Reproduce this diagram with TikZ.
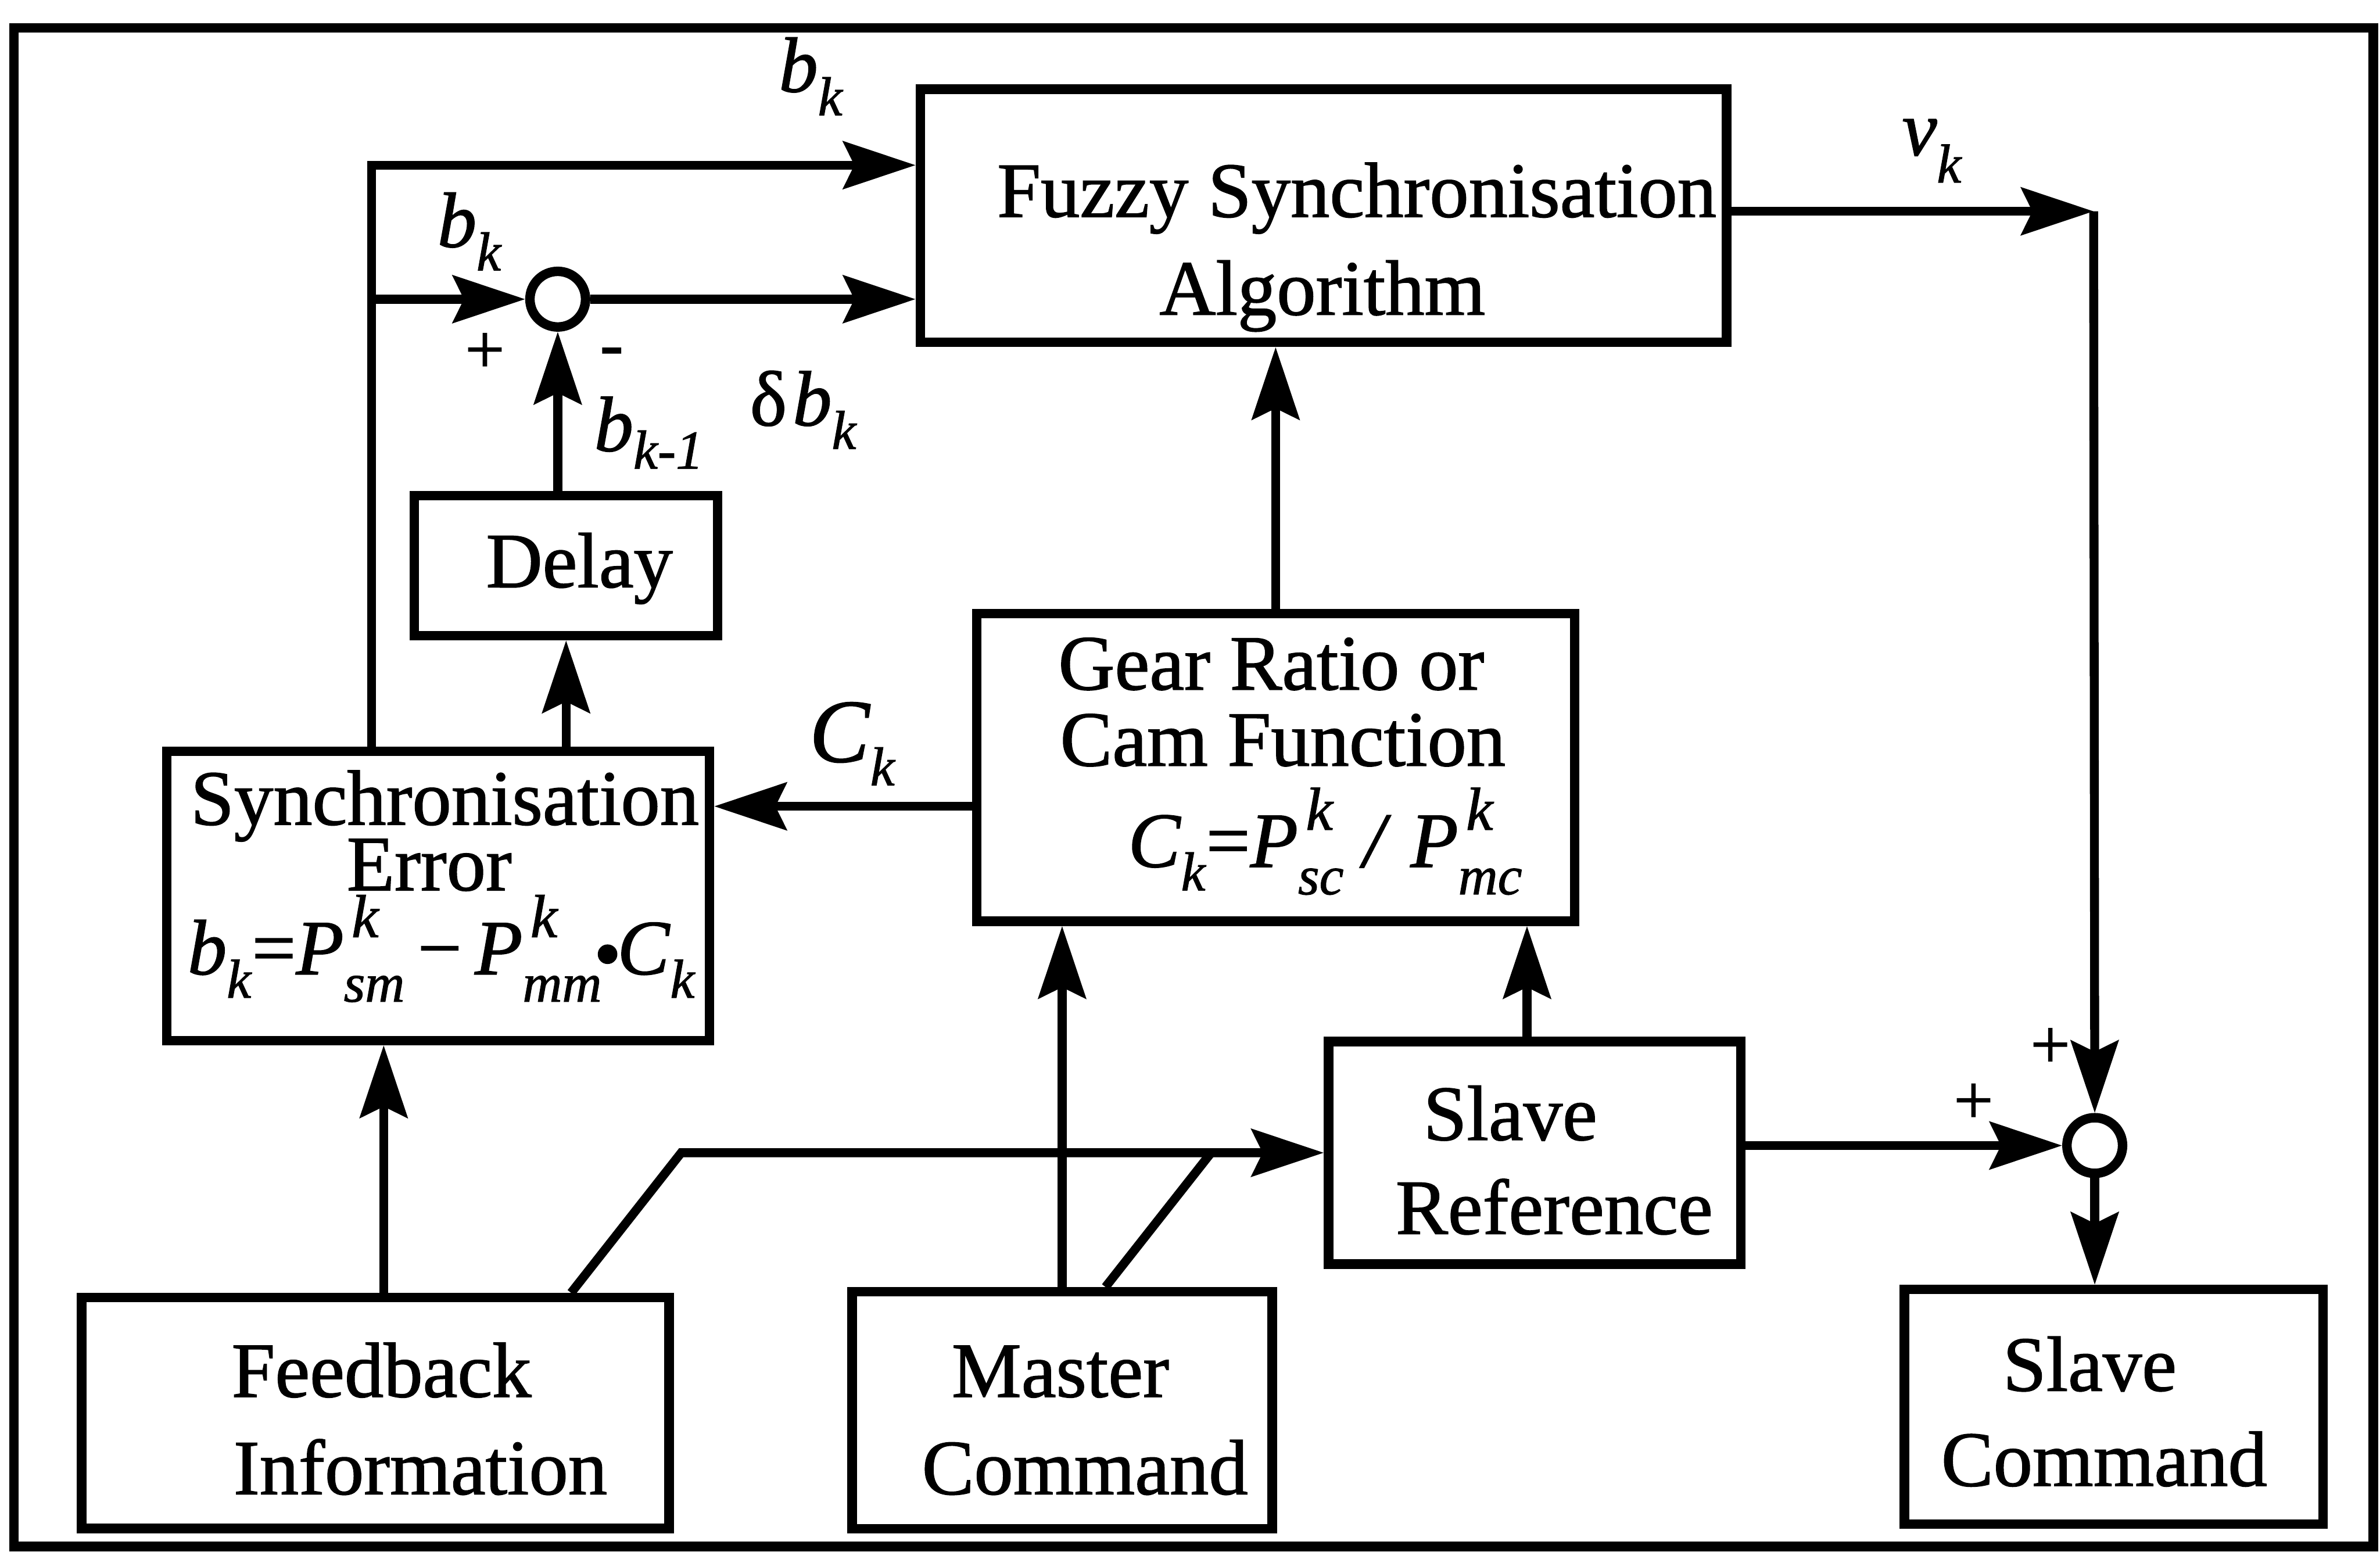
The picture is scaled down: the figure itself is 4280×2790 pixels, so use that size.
\documentclass[tikz,border=0pt]{standalone}
\usepackage{fontspec}
\setmainfont{Liberation Serif}[UprightFeatures={FakeBold=1.2},ItalicFeatures={FakeBold=1.2}]
\usetikzlibrary{arrows.meta}
\newcommand\txtsz{\fontsize{40}{48}\selectfont}
\newcommand\subsz{\fontsize{28}{28}\selectfont}
\newcommand\supsz{\fontsize{31}{31}\selectfont}
\newcommand\lsub[2]{\textit{#1}\raisebox{-12pt}{\subsz\textit{#2}}}
\newcommand\lsupsub[3]{\textit{#1}\rlap{\hspace{4pt}\raisebox{19pt}{\supsz\textit{#2}}}\raisebox{-14pt}{\subsz\textit{#3}}}
\tikzset{
  box/.style={draw, line width=0.17cm, inner sep=0pt},
  txt/.style={font=\txtsz, inner sep=0pt, anchor=base},
  lbl/.style={font=\txtsz, inner sep=0pt, anchor=base west},
  sgn/.style={font=\fontsize{36}{36}\selectfont, inner sep=0pt},
  sumnode/.style={draw, circle, line width=0.17cm, minimum size=1.0cm, inner sep=0pt, fill=white},
  conn/.style={line width=0.16cm, -{Stealth[length=1.3cm,width=0.85cm,inset=0.2cm]}},
  plain/.style={line width=0.16cm},
}
\begin{document}
\begin{tikzpicture}[x=0.01cm,y=-0.01cm]
\useasboundingbox (0,0) rectangle (4280,2790);
% outer frame
\draw[line width=0.17cm] (25,50) rectangle (4268,2781);

% boxes
\node[box, minimum width=14.49cm, minimum height=4.55cm] (fuzzy) at (2380,388) {};
\node[box, minimum width=5.45cm, minimum height=2.52cm] (delay) at (1018,1017) {};
\node[box, minimum width=9.75cm, minimum height=5.20cm] (syncE) at (788,1611) {};
\node[box, minimum width=10.75cm, minimum height=5.53cm] (gear) at (2294,1380) {};
\node[box, minimum width=7.41cm, minimum height=4.00cm] (slref) at (2760,2073) {};
\node[box, minimum width=10.56cm, minimum height=4.15cm] (fb) at (675,2541) {};
\node[box, minimum width=7.55cm, minimum height=4.26cm] (mc) at (1910,2536) {};
\node[box, minimum width=7.52cm, minimum height=4.22cm] (sc) at (3801,2530) {};

% summing junctions
\node[sumnode] (sum1) at (1003,538) {};
\node[sumnode] (sum2) at (3767,2060) {};

% box texts
\node[txt] (fz1) at (2440,390) {Fuzzy Synchronisation};
\node[txt] (fz2) at (2378,566) {Algorithm};
\node[txt] (dl) at (1042,1056) {Delay};
\node[txt] (se1) at (800,1483) {Synchronisation};
\node[txt] (se2) at (772,1601) {Error};
\node[txt] (se3) at (794,1752) {\lsub{b}{k}=\lsupsub{P}{k}{sm}\,−\,\lsupsub{P}{k}{mm}\kern-4pt\raisebox{-3pt}{\textbullet}\kern-2pt\lsub{C}{k}};
\node[txt] (gr1) at (2286,1240) {Gear Ratio or};
\node[txt] (gr2) at (2307,1377) {Cam Function};
\node[txt] (gr3) at (2383,1559) {\lsub{C}{k}=\lsupsub{P}{k}{sc}\ \textit{/}\ \lsupsub{P}{k}{mc}};
\node[txt] (sr1) at (2716,2050) {Slave};
\node[txt] (sr2) at (2795,2219) {Reference};
\node[txt] (fb1) at (686,2512) {Feedback};
\node[txt] (fb2) at (756,2687) {Information};
\node[txt] (mc1) at (1907,2512) {Master};
\node[txt] (mc2) at (1951,2687) {Command};
\node[txt] (sc1) at (3758,2501) {Slave};
\node[txt] (sc2) at (3784,2672) {Command};

% coordinates
\coordinate (jL) at (668,297);
\coordinate (jL2) at (668,538);
\coordinate (cV) at (3765,380);
\coordinate (cY) at (0,1450);
\coordinate (fbx) at (690,0);
\coordinate (fdx) at (1027,0);
\coordinate (d1) at (1225,2073);
\coordinate (mdx) at (1988,0);
\coordinate (d2) at (2178,2073);
\coordinate (srx) at (2746,0);

% connectors
\draw[conn] (syncE.north -| jL) -- (jL) -- (fuzzy.west |- jL);
\draw[conn] (jL2) -- (sum1.west);
\draw[conn] (sum1.east) -- (fuzzy.west |- sum1.east);
\draw[conn] (delay.north -| sum1.south) -- (sum1.south);
\draw[conn] (syncE.north -| delay.south) -- (delay.south);
\draw[conn] (gear.north) -- (fuzzy.south -| gear.north);
\draw[conn] (gear.west |- cY) -- (syncE.east |- cY);
\draw[conn] (fb.north -| fbx) -- (syncE.south -| fbx);
\draw[conn] (fb.north -| fdx) -- (d1) -- (slref.west |- d1);
\draw[plain] (mc.north -| mdx) -- (d2);
\draw[conn] (mc.north) -- (gear.south -| mc.north);
\draw[conn] (slref.north -| srx) -- (gear.south -| srx);
\draw[conn] (slref.east |- sum2.west) -- (sum2.west);
\draw[conn] (fuzzy.east |- cV) -- (cV);
\draw[conn] (cV) -- (sum2.north);
\draw[conn] (sum2.south) -- (sc.north -| sum2.south);

% labels
\node[lbl] (lbk1) at (1400,165) {\lsub{b}{k}};
\node[lbl] (lbk2) at (786,444) {\lsub{b}{k}};
\node[sgn] (lp1) at (872,635) {+};
\node[sgn] (lm1) at (1100,643) {-};
\node[lbl] (lbkm1) at (1068,811) {\textit{b}\raisebox{-9pt}{\subsz\textit{k-1}}};
\node[lbl] (ldb) at (1348,765) {δ\kern3pt\lsub{b}{k}};
\node[lbl] (lvk) at (3420,279) {\textit{v}\raisebox{-14pt}{\subsz\textit{k}}};
\node[lbl, font=\fontsize{46}{50}\selectfont] (lck) at (1455,1370) {\lsub{C}{k}};
\node[sgn] (lp2) at (3687,1885) {+};
\node[sgn] (lp3) at (3549,1985) {+};
\end{tikzpicture}
\end{document}
